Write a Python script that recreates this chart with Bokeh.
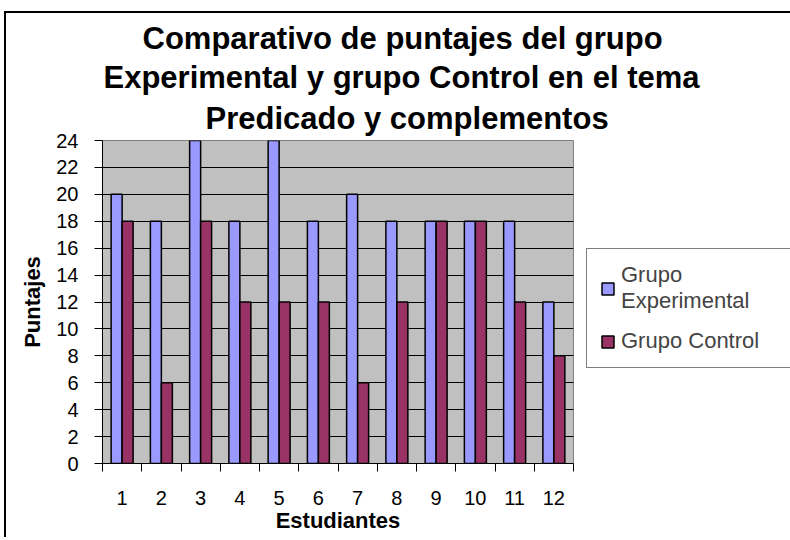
from bokeh.plotting import figure
from bokeh.models import Range1d, FixedTicker, Legend, LegendItem, Title, ColumnDataSource
from bokeh.transform import dodge
from bokeh.embed import file_html
from bokeh.resources import INLINE

# ---- data ----
estudiantes = ["1", "2", "3", "4", "5", "6", "7", "8", "9", "10", "11", "12"]
grupo_experimental = [20, 18, 24, 18, 24, 18, 20, 18, 18, 18, 18, 12]
grupo_control = [18, 6, 18, 12, 12, 12, 6, 12, 18, 18, 12, 8]
y_ticks = [0, 2, 4, 6, 8, 10, 12, 14, 16, 18, 20, 22, 24]
title_lines = ["Comparativo de puntajes del grupo",
               "Experimental y grupo Control en el tema",
               "Predicado y complementos"]
series_names = ["Grupo\nExperimental", "Grupo Control"]

FONT = "Liberation Sans"
BLUE = "#9999FF"
MAROON = "#993366"

xpos = list(range(1, len(estudiantes) + 1))
src = ColumnDataSource(dict(x=xpos, exp=grupo_experimental, ctl=grupo_control))

p = figure(frame_width=471, frame_height=323,
           min_border_left=96, min_border_right=216,
           min_border_top=127, min_border_bottom=74,
           x_range=Range1d(0.5, len(estudiantes) + 0.5),
           y_range=Range1d(0, 24),
           output_backend="svg", toolbar_location=None)

p.styles = {"border-left": "2px solid black", "border-top": "2px solid black",
            "margin-left": "4px", "margin-top": "11px"}

p.background_fill_color = "#C0C0C0"
p.border_fill_color = "white"
p.outline_line_color = "#808080"
p.outline_line_width = 1

bw = 0.28
r1 = p.vbar(x=dodge("x", -bw / 2, range=p.x_range), top="exp", width=bw, source=src,
            fill_color=BLUE, line_color="black", line_width=1.5)
r2 = p.vbar(x=dodge("x", bw / 2, range=p.x_range), top="ctl", width=bw, source=src,
            fill_color=MAROON, line_color="black", line_width=1.5)

# grid
p.xgrid.visible = False
p.ygrid.ticker = FixedTicker(ticks=y_ticks)
p.ygrid.grid_line_color = "black"
p.ygrid.grid_line_width = 1

# y axis
ya = p.yaxis[0]
ya.ticker = FixedTicker(ticks=y_ticks)
ya.axis_label = "Puntajes"
ya.axis_label_text_font = FONT
ya.axis_label_text_font_style = "bold"
ya.axis_label_text_font_size = "22px"
ya.axis_label_text_color = "black"
ya.axis_label_standoff = 8
ya.major_label_text_font = FONT
ya.major_label_text_font_size = "20px"
ya.major_label_text_color = "black"
ya.major_label_standoff = 16
ya.major_tick_out = 8
ya.major_tick_in = 0
ya.minor_tick_out = 0
ya.minor_tick_in = 0
ya.axis_line_color = "black"
ya.major_tick_line_color = "black"

# x axis
xa = p.xaxis[0]
xa.ticker = FixedTicker(ticks=xpos, minor_ticks=[i - 0.5 for i in xpos] + [len(xpos) + 0.5])
xa.major_label_overrides = {i: s for i, s in zip(xpos, estudiantes)}
xa.axis_label = "Estudiantes"
xa.axis_label_text_font = FONT
xa.axis_label_text_font_style = "bold"
xa.axis_label_text_font_size = "22px"
xa.axis_label_text_color = "black"
xa.axis_label_standoff = 0
xa.major_label_text_font = FONT
xa.major_label_text_font_size = "20px"
xa.major_label_text_color = "black"
xa.major_label_standoff = 19
xa.major_tick_out = 0
xa.major_tick_in = 0
xa.minor_tick_out = 8
xa.minor_tick_in = 0
xa.minor_tick_line_color = "black"
xa.axis_line_color = "black"

# title lines, stacked above the plot (the last one added is the top line);
# the chart title is centred over the whole chart area, not over the plot area
title_offsets = [40, 1, 103]
title_standoffs = [4, 0, 9]
for txt, off, so in reversed(list(zip(title_lines, title_offsets, title_standoffs))):
    p.add_layout(Title(text=txt, align="left", offset=off, standoff=so,
                       text_font=FONT, text_font_style="bold",
                       text_font_size="31px", text_color="black"), "above")

legend = Legend(items=[LegendItem(label=series_names[0], renderers=[r1]),
                       LegendItem(label=series_names[1], renderers=[r2])],
                location=(13, 95), margin=0, padding=13, spacing=14,
                glyph_width=15, glyph_height=15, label_standoff=6,
                label_width=158,
                label_text_font=FONT, label_text_font_size="22px",
                label_text_line_height=1.27,
                border_line_color="black", border_line_width=1,
                background_fill_color="white", background_fill_alpha=1)
p.add_layout(legend, "right")

open("out.html", "w").write(file_html(p, INLINE))
